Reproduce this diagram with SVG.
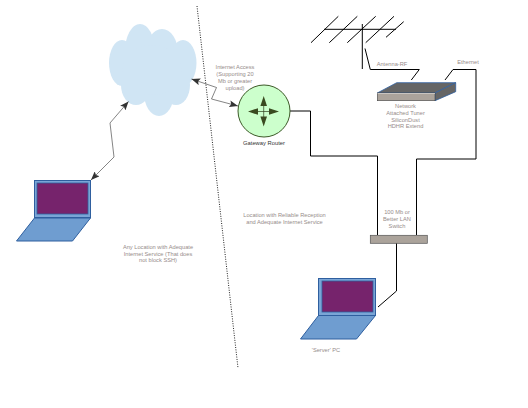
<svg xmlns="http://www.w3.org/2000/svg" width="528" height="408" viewBox="0 0 528 408">
<style>
text{font-family:"Liberation Sans",Arial,sans-serif;font-size:5.700px;fill:#968c8a;text-anchor:middle}
.dark{fill:#333;font-size:5.800px}
.c{fill:none;stroke:#000;stroke-width:1}
.t{fill:none;stroke:#333;stroke-width:.6}
.cloud ellipse{fill:#d0e5f4}
.scr{fill:#7aa5d6;stroke:#2f5f9f;stroke-width:1}
.in{fill:#76236c;stroke:#2f5f9f;stroke-width:.8}
.base{fill:#6f9dd0;stroke:#2f5f9f;stroke-width:1}
</style>
<defs>
<marker id="a" viewBox="0 0 10 8" refX="10" refY="4" markerWidth="9" markerHeight="7" markerUnits="userSpaceOnUse" orient="auto-start-reverse"><path d="M0 0L10 4L0 8L2 4Z" fill="#333"/></marker>
</defs>
<g id="divider"><path d="M197 6L238 368" fill="none" stroke="#222" stroke-width="1" stroke-dasharray="1 1.400"/></g>
<g id="cloud" class="cloud">
<ellipse cx="140" cy="51" rx="15" ry="27"/><ellipse cx="162" cy="53" rx="16" ry="24"/><ellipse cx="122" cy="63" rx="13" ry="23"/><ellipse cx="183" cy="63" rx="13.500" ry="23"/><ellipse cx="136" cy="85" rx="15" ry="20"/><ellipse cx="159" cy="93" rx="15" ry="23"/><ellipse cx="176" cy="85" rx="14" ry="20"/><ellipse cx="152" cy="70" rx="30" ry="25"/>
</g>
<g id="connectors">
<path class="t" d="M191.500 79L216.500 87.500L211.500 99L238 106" marker-start="url(#a)" marker-end="url(#a)"/>
<path class="t" d="M128.500 101.500L110 123L114 157L91 180" marker-start="url(#a)" marker-end="url(#a)"/>
<path class="c" d="M290 111H310.500V156H377.500V235"/>
<path class="c" d="M445 80L453 69.500H476V159H416.500V235"/>
<path class="c" d="M396.500 243V291L378 307"/>
<path class="c" d="M365 48.500L370.300 69.500H419.300L411.300 80"/>
</g>
<g id="router">
<circle cx="264" cy="111" r="26" fill="#ccffcc" stroke="#3d5a28" stroke-width="1"/>
<path d="M263.700 100V122M252 111.500H275" stroke="#2f3f1c" stroke-width=".7"/>
<path d="M263.700 96L267 106H260.400ZM263.700 126.500L267 116.500H260.400ZM248 111.500L258 108.200V114.800ZM279 111.500L269 108.200V114.800Z" fill="#3a4a20"/>
<text class="dark" x="264" y="145">Gateway Router</text>
</g>
<g id="antenna" fill="none" stroke="#000" stroke-width="1">
<path d="M324 29.300H396M362.300 24V69M311 42.700L338.300 16.300M329.300 42.700L357.300 16.300M347.300 42.700L375.700 16.300M365.700 42.700L394 16.300M386 37.300L403.700 21.700"/>
</g>
<g id="tuner">
<path d="M377.300 93L396.700 82.700H455.700L435 93Z" fill="#656565" stroke="#2f5f9f" stroke-width=".8"/>
<path d="M435 93L455.700 82.700V91.700L435 100.700Z" fill="#656565" stroke="#2f5f9f" stroke-width=".8"/>
<rect x="377.300" y="93" width="57.700" height="7.700" fill="#aba39b" stroke="#444" stroke-width=".6"/>
<path d="M377.500 93.500H435" stroke="#d8d4d0" stroke-width=".8"/>
<text x="405.500" y="108">Network</text><text x="405.500" y="115">Attached Tuner</text><text x="405.500" y="122">SiliconDust</text><text x="405.500" y="128">HDHR Extend</text>
</g>
<g id="switch">
<rect x="370.300" y="235.300" width="57" height="8" fill="#aba39b" stroke="#555" stroke-width=".7"/>
<text x="397" y="214">100 Mb or</text><text x="397" y="221">Better LAN</text><text x="397" y="228">Switch</text>
</g>
<g id="laptop-remote">
<path class="base" d="M34.500 218H90.500L72.500 241H16.500Z"/>
<rect class="scr" x="34.500" y="180.500" width="56" height="37"/>
<rect class="in" x="37" y="183" width="51" height="31"/>
</g>
<g id="laptop-server">
<path class="base" d="M318.500 315.500H375.500L356.500 339H300.500Z"/>
<rect class="scr" x="318.500" y="278.500" width="57" height="37"/>
<rect class="in" x="322" y="281" width="51" height="31"/>
<text x="326" y="352">'Server' PC</text>
</g>
<g id="labels">
<text x="235" y="69">Internet Access</text><text x="235" y="76">(Supporting 20</text><text x="235" y="83">Mb or greater</text><text x="235" y="89.500">upload)</text>
<text x="392" y="66">Antenna-RF</text>
<text x="468" y="64">Ethernet</text>
<text x="284.500" y="217">Location with Reliable Reception</text><text x="284.500" y="224">and Adequate Internet Service</text>
<text x="158" y="249">Any Location with Adequate</text><text x="158" y="255.500">Internet Service (That does</text><text x="158" y="262">not block SSH)</text>
</g>
</svg>
